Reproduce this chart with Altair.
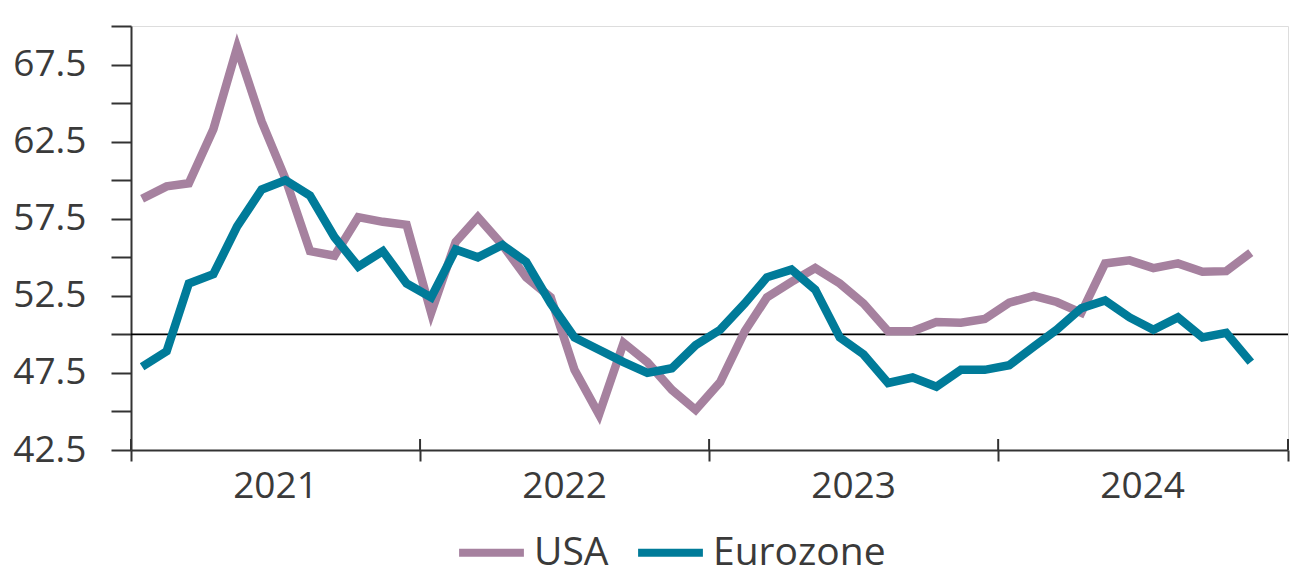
import altair as alt
import pandas as pd

# ---- data (monthly PMI, Jan 2021 - Nov 2024) ----
usa = [58.8, 59.6, 59.8, 63.3, 68.6, 63.8, 60.1, 55.4, 55.1, 57.6, 57.3, 57.1,
       51.4, 56.0, 57.6, 55.8, 53.7, 52.4, 47.7, 44.8, 49.45, 48.2, 46.4, 45.1,
       46.9, 50.2, 52.4, 53.4, 54.3, 53.3, 52.0, 50.2, 50.2, 50.8, 50.75, 51.0,
       52.05, 52.5, 52.1, 51.4, 54.6, 54.8, 54.3, 54.6, 54.06, 54.1, 55.3]
eurozone = [47.9, 48.9, 53.3, 53.9, 57.0, 59.4, 60.0, 59.0, 56.3, 54.4, 55.4, 53.3,
            52.4, 55.5, 55.0, 55.8, 54.7, 52.0, 49.8, 49.0, 48.2, 47.5, 47.8, 49.3,
            50.3, 52.0, 53.7, 54.2, 52.9, 49.8, 48.7, 46.85, 47.2, 46.6, 47.7, 47.7,
            48.0, 49.2, 50.3, 51.7, 52.2, 51.1, 50.3, 51.1, 49.8, 50.1, 48.2]
series_names = ["USA", "Eurozone"]
series_colors = ["#A6819F", "#007B99"]
year_bounds = [2021, 2022, 2023, 2024, 2025]
y_ticks = [42.5 + 2.5 * k for k in range(12)]
reference_level = [50]

dates = [f"{2021 + i // 12}-{i % 12 + 1:02d}-15" for i in range(len(usa))]
df = pd.DataFrame({
    "date": dates * 2,
    "value": usa + eurozone,
    "series": ["USA"] * len(usa) + ["Eurozone"] * len(eurozone),
})
ticks_df = pd.DataFrame({"date": [f"{y}-01-01" for y in year_bounds]})
ref_df = pd.DataFrame({"value": reference_level})

PLOT_W, PLOT_H = 1157, 424
TEXT = "#3a3a3a"
AXIS = "#333333"
FONT = "Open Sans"
FS = 37

x_scale = alt.Scale(domain=[alt.DateTime(year=year_bounds[0], month=1, date=1),
                            alt.DateTime(year=year_bounds[-1], month=1, date=1)])
y_scale = alt.Scale(domain=[42.5, 70], nice=False, zero=False)

x_axis = alt.Axis(
    values=[alt.DateTime(year=y, month=1, date=1) for y in year_bounds],
    labelExpr="year(datum.value) > 2024 ? '' : timeFormat(datum.value, '%Y')",
    labelOffset=144, labelFontSize=FS, labelColor=TEXT, labelFont=FONT,
    labelPadding=7, labelFlush=False, labelOverlap=False, labelBound=False,
    tickSize=11, tickWidth=2, tickColor=AXIS,
    domainColor=AXIS, domainWidth=2, grid=False, title=None,
)
y_axis = alt.Axis(
    values=y_ticks,
    labelExpr="(datum.value - 42.5) % 5 == 0 && datum.value < 70 ? format(datum.value, '.1f') : ''",
    labelFontSize=FS, labelColor=TEXT, labelFont=FONT, labelPadding=25,
    tickSize=20, tickWidth=2, tickColor=AXIS,
    domainColor=AXIS, domainWidth=2, grid=False, title=None,
)

ref_rule = alt.Chart(ref_df).mark_rule(color="black", strokeWidth=1.6).encode(
    y=alt.Y("value:Q", scale=y_scale, axis=y_axis)
)

lines = alt.Chart(df).mark_line(strokeWidth=8.5, strokeJoin="miter").encode(
    x=alt.X("date:T", scale=x_scale, axis=x_axis),
    y=alt.Y("value:Q", scale=y_scale, axis=y_axis),
    color=alt.Color(
        "series:N",
        scale=alt.Scale(domain=series_names, range=series_colors),
        sort=series_names,
        legend=alt.Legend(
            orient="none", legendX=324, legendY=490, direction="horizontal",
            title=None, symbolType="stroke", symbolStrokeWidth=8, symbolSize=4200,
            labelFontSize=39, labelColor=TEXT, labelFont=FONT, labelOffset=6,
            labelLimit=400, columnPadding=13, padding=0,
        ),
    ),
    detail="series:N",
)

up_ticks = alt.Chart(ticks_df).mark_rule(color=AXIS, strokeWidth=2).encode(
    x=alt.X("date:T", scale=x_scale, axis=x_axis),
    y=alt.value(PLOT_H - 11),
    y2=alt.value(PLOT_H),
)

chart = alt.layer(ref_rule, lines, up_ticks).properties(
    width=PLOT_W, height=PLOT_H,
    padding={"left": 123, "top": 18, "right": 4, "bottom": 125},
    autosize=alt.AutoSizeParams(type="none"),
).configure_view(stroke=None).configure(font=FONT)

chart.save("out.html", embed_options={"renderer": "svg", "actions": False})
